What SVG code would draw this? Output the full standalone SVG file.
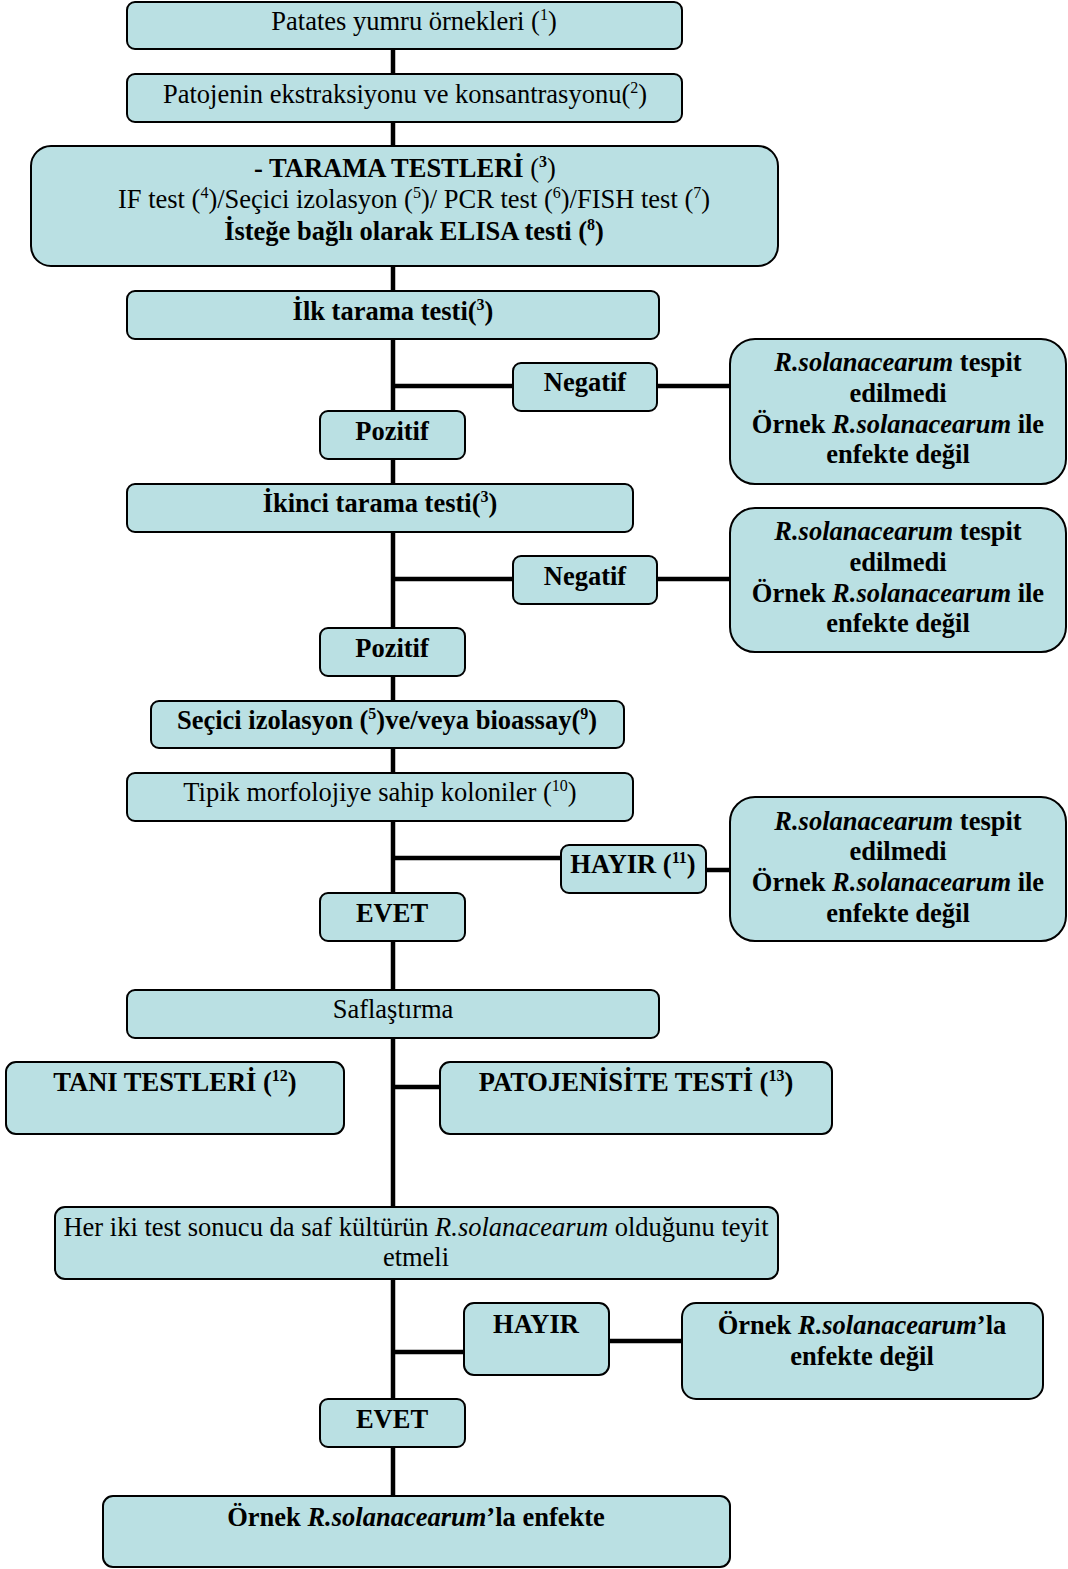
<svg xmlns="http://www.w3.org/2000/svg" width="1068" height="1569" viewBox="0 0 1068 1569">
<style>
.b{fill:#bae0e3;stroke:#000;stroke-width:2}
.t{font-family:"Liberation Serif","Times New Roman",serif;font-size:26.5px;fill:#000;text-anchor:middle}
.bd{font-weight:bold}
.i{font-style:italic}
.c{stroke:#000;stroke-width:4.5;fill:none}
.s{font-size:16px}
</style>
<rect width="1068" height="1569" fill="#fff"/>
<g id="connectors">
<line class="c" x1="393" y1="49" x2="393" y2="1497"/>
<line class="c" x1="393" y1="386" x2="513" y2="386"/>
<line class="c" x1="657" y1="386" x2="731" y2="386"/>
<line class="c" x1="393" y1="579" x2="513" y2="579"/>
<line class="c" x1="657" y1="579" x2="731" y2="579"/>
<line class="c" x1="393" y1="858" x2="561" y2="858"/>
<line class="c" x1="706" y1="870" x2="731" y2="870"/>
<line class="c" x1="393" y1="1087" x2="441" y2="1087"/>
<line class="c" x1="393" y1="1352" x2="464" y2="1352"/>
<line class="c" x1="609" y1="1341" x2="683" y2="1341"/>
</g>
<g id="n1"><rect class="b" x="127" y="2" width="555" height="47" rx="8"/>
<text class="t" x="414" y="30">Patates yumru örnekleri (<tspan class="s" dy="-10">1</tspan><tspan dy="10">)</tspan></text></g>
<g id="n2"><rect class="b" x="127" y="74" width="555" height="48" rx="8"/>
<text class="t" x="405" y="103">Patojenin ekstraksiyonu ve konsantrasyonu(<tspan class="s" dy="-10">2</tspan><tspan dy="10">)</tspan></text></g>
<g id="n3"><rect class="b" x="31" y="146" width="747" height="120" rx="20"/>
<text class="t" x="405" y="177"><tspan class="bd">- TARAMA TESTLERİ </tspan>(<tspan class="s bd" dy="-10">3</tspan><tspan dy="10">)</tspan></text>
<text class="t" x="414" y="208">IF test (<tspan class="s" dy="-10">4</tspan><tspan dy="10">)/Seçici izolasyon (</tspan><tspan class="s" dy="-10">5</tspan><tspan dy="10">)/ PCR test (</tspan><tspan class="s" dy="-10">6</tspan><tspan dy="10">)/FISH test (</tspan><tspan class="s" dy="-10">7</tspan><tspan dy="10">)</tspan></text>
<text class="t bd" x="414" y="240">İsteğe bağlı olarak ELISA testi (<tspan class="s" dy="-10">8</tspan><tspan dy="10">)</tspan></text></g>
<g id="n4"><rect class="b" x="127" y="291" width="532" height="48" rx="8"/>
<text class="t bd" x="393" y="320">İlk tarama testi(<tspan class="s" dy="-10">3</tspan><tspan dy="10">)</tspan></text></g>
<g id="n5"><rect class="b" x="513" y="363" width="144" height="48" rx="8"/>
<text class="t bd" x="585" y="391">Negatif</text></g>
<g id="n6"><rect class="b" x="730" y="339" width="336" height="145" rx="25"/>
<text class="t bd" x="898" y="371"><tspan class="i">R.solanacearum</tspan> tespit</text>
<text class="t bd" x="898" y="402">edilmedi</text>
<text class="t bd" x="898" y="433">Örnek <tspan class="i">R.solanacearum</tspan> ile</text>
<text class="t bd" x="898" y="463">enfekte değil</text></g>
<g id="n7"><rect class="b" x="320" y="411" width="145" height="48" rx="8"/>
<text class="t bd" x="392" y="440">Pozitif</text></g>
<g id="n8"><rect class="b" x="127" y="484" width="506" height="48" rx="8"/>
<text class="t bd" x="380" y="512">İkinci tarama testi(<tspan class="s" dy="-10">3</tspan><tspan dy="10">)</tspan></text></g>
<g id="n9"><rect class="b" x="513" y="556" width="144" height="48" rx="8"/>
<text class="t bd" x="585" y="585">Negatif</text></g>
<g id="n10"><rect class="b" x="730" y="508" width="336" height="144" rx="25"/>
<text class="t bd" x="898" y="540"><tspan class="i">R.solanacearum</tspan> tespit</text>
<text class="t bd" x="898" y="571">edilmedi</text>
<text class="t bd" x="898" y="602">Örnek <tspan class="i">R.solanacearum</tspan> ile</text>
<text class="t bd" x="898" y="632">enfekte değil</text></g>
<g id="n11"><rect class="b" x="320" y="628" width="145" height="48" rx="8"/>
<text class="t bd" x="392" y="657">Pozitif</text></g>
<g id="n12"><rect class="b" x="151" y="701" width="473" height="47" rx="8"/>
<text class="t bd" x="387" y="729">Seçici izolasyon (<tspan class="s" dy="-10">5</tspan><tspan dy="10">)ve/veya bioassay(</tspan><tspan class="s" dy="-10">9</tspan><tspan dy="10">)</tspan></text></g>
<g id="n13"><rect class="b" x="127" y="773" width="506" height="48" rx="8"/>
<text class="t" x="380" y="801">Tipik morfolojiye sahip koloniler (<tspan class="s" dy="-10">10</tspan><tspan dy="10">)</tspan></text></g>
<g id="n14"><rect class="b" x="561" y="845" width="145" height="48" rx="8"/>
<text class="t bd" x="633" y="873">HAYIR (<tspan class="s" dy="-10">11</tspan><tspan dy="10">)</tspan></text></g>
<g id="n15"><rect class="b" x="730" y="797" width="336" height="144" rx="25"/>
<text class="t bd" x="898" y="830"><tspan class="i">R.solanacearum</tspan> tespit</text>
<text class="t bd" x="898" y="860">edilmedi</text>
<text class="t bd" x="898" y="891">Örnek <tspan class="i">R.solanacearum</tspan> ile</text>
<text class="t bd" x="898" y="922">enfekte değil</text></g>
<g id="n16"><rect class="b" x="320" y="893" width="145" height="48" rx="8"/>
<text class="t bd" x="392" y="922">EVET</text></g>
<g id="n17"><rect class="b" x="127" y="990" width="532" height="48" rx="8"/>
<text class="t" x="393" y="1018">Saflaştırma</text></g>
<g id="n18"><rect class="b" x="6" y="1062" width="338" height="72" rx="10"/>
<text class="t bd" x="175" y="1091">TANI TESTLERİ (<tspan class="s" dy="-10">12</tspan><tspan dy="10">)</tspan></text></g>
<g id="n19"><rect class="b" x="440" y="1062" width="392" height="72" rx="10"/>
<text class="t bd" x="636" y="1091">PATOJENİSİTE TESTİ (<tspan class="s" dy="-10">13</tspan><tspan dy="10">)</tspan></text></g>
<g id="n20"><rect class="b" x="55" y="1207" width="723" height="72" rx="10"/>
<text class="t" x="416" y="1236">Her iki test sonucu da saf kültürün <tspan class="i">R.solanacearum</tspan> olduğunu teyit</text>
<text class="t" x="416" y="1266">etmeli</text></g>
<g id="n21"><rect class="b" x="464" y="1303" width="145" height="72" rx="10"/>
<text class="t bd" x="536" y="1333">HAYIR</text></g>
<g id="n22"><rect class="b" x="682" y="1303" width="361" height="96" rx="14"/>
<text class="t bd" x="862" y="1334">Örnek <tspan class="i">R.solanacearum</tspan>’la</text>
<text class="t bd" x="862" y="1365">enfekte değil</text></g>
<g id="n23"><rect class="b" x="320" y="1399" width="145" height="48" rx="8"/>
<text class="t bd" x="392" y="1428">EVET</text></g>
<g id="n24"><rect class="b" x="103" y="1496" width="627" height="71" rx="10"/>
<text class="t bd" x="416" y="1526">Örnek <tspan class="i">R.solanacearum</tspan>’la enfekte</text></g>
</svg>
